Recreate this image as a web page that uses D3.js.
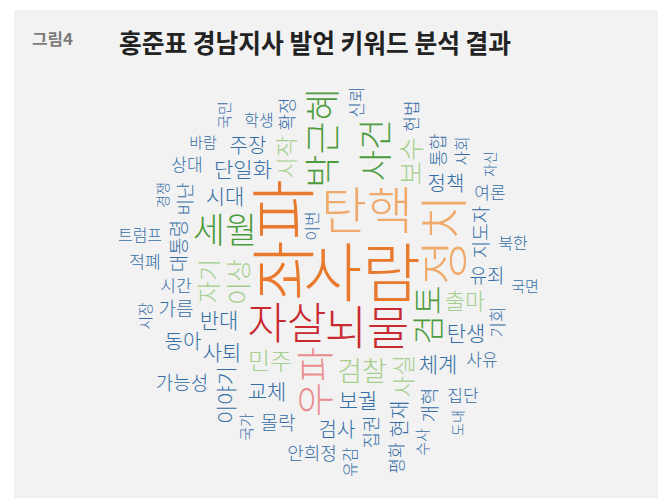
<!DOCTYPE html>
<html>
<head>
<meta charset="utf-8">
<script src="https://cdn.jsdelivr.net/npm/d3@7"></script>
<style>
  body { margin: 0; background: #fff; }
  svg text { font-family: "Noto Sans CJK KR", "Noto Sans", sans-serif; }
</style>
</head>
<body>
<div id="chart"></div>
<script>
// Keywords and how often they come up (estimated from the font size in the cloud)
var words = ['좌파', '사람', '탄핵', '정치', '뇌물', '자살', '우파', '박근혜', '세월', '사건', '검토',
  '검찰', '보수', '이상', '민주', '자기', '사실', '시작', '출마',
  '단일화', '보궐', '체계', '반대', '탄생', '교체', '사퇴', '시대', '이야기',
  '현재', '검사', '주장', '동아', '정책', '몰락', '가름', '유죄', '가능성', '지도자',
  '대통령', '개혁', '안희정', '확정', '집권', '통합', '비난', '시간', '상대', '사유',
  '적폐', '여론', '집단', '기회', '헌법', '신뢰', '평화', '학생', '트럼프', '북한',
  '이번', '사회', '유감', '바람', '국면', '시장', '수사', '국민', '국가', '경쟁', '도내', '자신'];

var counts = [100, 97, 76, 73, 69, 65, 57, 53, 52, 50, 47,
  40, 38, 37, 35, 35, 34, 33, 32,
  31, 31, 31, 31, 30, 30, 30, 30, 30,
  29, 29, 29, 29, 29, 28, 27, 27, 27, 27,
  27, 27, 26, 26, 26, 26, 26, 24, 24, 24,
  24, 24, 24, 24, 24, 24, 24, 23, 23, 23,
  23, 23, 23, 21, 21, 21, 21, 21, 21, 20, 20, 20];

// Keywords that are set vertically in the cloud
var verticalWords = ['좌파', '정치', '우파', '박근혜', '사건', '검토', '보수', '이상', '자기', '사실', '시작',
  '이야기', '현재', '지도자', '대통령', '개혁', '확정', '집권', '통합', '비난', '기회', '헌법',
  '신뢰', '평화', '이번', '사회', '유감', '시장', '수사', '국민', '국가', '경쟁', '도내', '자신'];

// Frequency bands for the colours
var bandBreaks = [32, 45, 55, 60, 70, 90];

var width = 671, height = 501;
var fontFamily = '"Noto Sans CJK KR"';
var fontWeight = 300;

var svg = d3.select('#chart')
            .append('svg')
            .attr('width', width)
            .attr('height', height);

// grey panel
svg.append('rect')
   .attr('x', 14)
   .attr('y', 10)
   .attr('width', 644)
   .attr('height', 488)
   .attr('fill', '#f2f2f2');

svg.append('text')
   .attr('x', 32)
   .attr('y', 45)
   .attr('font-size', 16)
   .attr('font-weight', 'bold')
   .attr('fill', '#7b7b7b')
   .attr('textLength', 41)
   .attr('lengthAdjust', 'spacingAndGlyphs')
   .text('그림4');

svg.append('text')
   .attr('x', 119)
   .attr('y', 53)
   .attr('font-size', 26)
   .attr('font-weight', 'bold')
   .attr('fill', '#222')
   .attr('textLength', 392)
   .attr('lengthAdjust', 'spacingAndGlyphs')
   .text('홍준표 경남지사 발언 키워드 분석 결과');

// Scales
var size = d3.scaleLinear()
             .domain([18, 100])
             .range([13, 66]);

var color = d3.scaleThreshold()
              .domain(bandBreaks)
              .range(['#356ea6', '#a4cf8c', '#4c9c3d', '#ea8d90', '#c92a2f', '#f0aa6c', '#e8792d']);

// Layout board (a simple spiral word cloud, in the spirit of d3-cloud)
var boardX = 106, boardY = 64, boardW = 440, boardH = 424;
var board = new Uint8Array(boardW * boardH);
var pad = 3;

var cnv = document.createElement('canvas');
var ctx = cnv.getContext('2d', { willReadFrequently: true });

// pixel mask of one word, centred on its bounding box
function makeSprite(text, fs, angle) {
  var font = fontWeight + ' ' + fs + 'px ' + fontFamily;
  ctx.font = font;
  var w = Math.ceil(ctx.measureText(text).width);
  var s = Math.max(w, fs * 2) + 14;
  var half = Math.floor(s / 2);
  cnv.width = s;
  cnv.height = s;
  ctx.font = font;
  ctx.textAlign = 'center';
  ctx.textBaseline = 'alphabetic';
  ctx.translate(half, half);
  ctx.rotate(angle * Math.PI / 180);
  ctx.fillText(text, 0, 0);
  var img = ctx.getImageData(0, 0, s, s).data;

  var raw = new Uint8Array(s * s);
  for (var i = 0; i < s * s; i++) raw[i] = img[i * 4 + 3] > 40 ? 1 : 0;

  // padding round the glyphs
  var xs = [], ys = [];
  var minX = 1e9, maxX = -1e9, minY = 1e9, maxY = -1e9;
  for (var y = pad; y < s - pad; y++) {
    for (var x = pad; x < s - pad; x++) {
      var on = 0;
      for (var dy = -pad; dy <= pad && !on; dy++)
        for (var dx = -pad; dx <= pad && !on; dx++)
          if (raw[(y + dy) * s + x + dx]) on = 1;
      if (on) {
        var rx = x - half, ry = y - half;
        xs.push(rx);
        ys.push(ry);
        if (rx < minX) minX = rx;
        if (rx > maxX) maxX = rx;
        if (ry < minY) minY = ry;
        if (ry > maxY) maxY = ry;
      }
    }
  }
  var ox = Math.round((minX + maxX) / 2), oy = Math.round((minY + maxY) / 2);
  return {
    xs: xs.map(function(v) { return v - ox; }),
    ys: ys.map(function(v) { return v - oy; }),
    x0: minX - ox, x1: maxX - ox, y0: minY - oy, y1: maxY - oy,
    ox: ox, oy: oy
  };
}

function collides(sp, px, py) {
  for (var k = 0; k < sp.xs.length; k++) {
    if (board[(py + sp.ys[k]) * boardW + px + sp.xs[k]]) return true;
  }
  return false;
}

function mark(sp, px, py) {
  for (var k = 0; k < sp.xs.length; k++) {
    board[(py + sp.ys[k]) * boardW + px + sp.xs[k]] = 1;
  }
}

// seeded random so the cloud is the same on every run
function mulberry32(a) {
  return function() {
    a |= 0; a = a + 0x6D2B79F5 | 0;
    var t = Math.imul(a ^ a >>> 15, 1 | a);
    t = t + Math.imul(t ^ t >>> 7, 61 | t) ^ t;
    return ((t ^ t >>> 14) >>> 0) / 4294967296;
  };
}
var rand = mulberry32(7);

var data = words.map(function(w, i) {
  return { text: w, count: counts[i], rotate: verticalWords.indexOf(w) >= 0 ? -90 : 0 };
});
data.sort(function(a, b) { return b.count - a.count; });

var e = boardW / boardH;
var placed = [];

data.forEach(function(d) {
  var fs = Math.round(size(d.count));
  var sp = makeSprite(d.text, fs, d.rotate);
  var cx = Math.round(boardW / 2 + (rand() - 0.5) * boardW * 0.2);
  var cy = Math.round(boardH / 2 + (rand() - 0.5) * boardH * 0.2);
  var dt = rand() < 0.5 ? 1 : -1;
  for (var i = 0; i < 40000; i++) {
    var t = i * dt * 0.1;
    var px = Math.round(cx + e * t * Math.cos(t));
    var py = Math.round(cy + t * Math.sin(t));
    if (Math.abs(t) > 330) break;
    if (px + sp.x0 < 0 || px + sp.x1 >= boardW || py + sp.y0 < 0 || py + sp.y1 >= boardH) continue;
    if (!collides(sp, px, py)) {
      mark(sp, px, py);
      placed.push({
        text: d.text, count: d.count, rotate: d.rotate, size: fs,
        x: boardX + px - sp.ox, y: boardY + py - sp.oy
      });
      break;
    }
  }
});

svg.append('g')
   .selectAll('text')
   .data(placed)
   .enter()
   .append('text')
   .attr('text-anchor', 'middle')
   .attr('transform', function(d) {
     return 'translate(' + d.x + ',' + d.y + ') rotate(' + d.rotate + ')';
   })
   .attr('font-size', function(d) { return d.size; })
   .attr('font-weight', fontWeight)
   .attr('fill', function(d) { return color(d.count); })
   .text(function(d) { return d.text; });
</script>
</body>
</html>
